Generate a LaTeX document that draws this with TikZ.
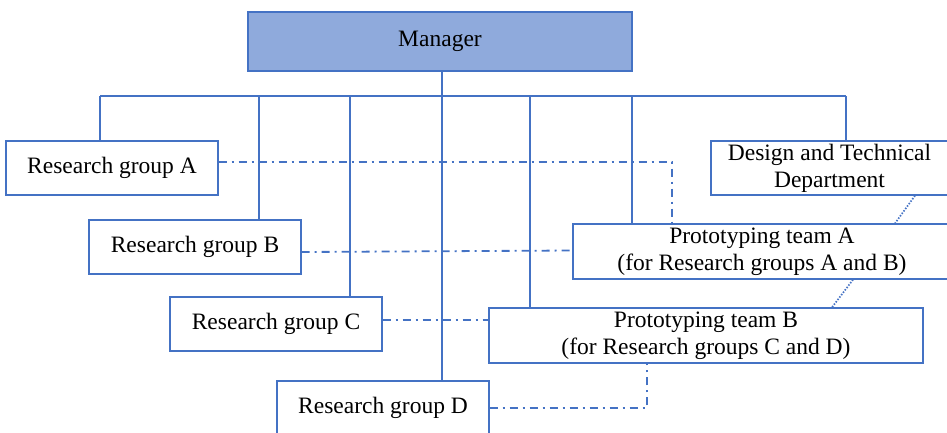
\documentclass[tikz,border=0pt]{standalone}
\usepackage{fontspec}
\setmainfont{Liberation Serif}
\definecolor{blu}{HTML}{4472C4}
\definecolor{mgrfill}{HTML}{8FAADC}
\tikzset{
  unit/.style={draw=blu, line width=1.3pt, fill=white, inner sep=0pt, align=center,
    font=\fontsize{23.5}{27}\selectfont, text=black},
  link/.style={draw=blu, line width=1.8pt},
  liaison/.style={draw=blu, line width=1.8pt, dash pattern=on 8pt off 5pt on 2pt off 5pt},
  support/.style={draw=blu, line width=1.7pt, dash pattern=on 1.5pt off 1.5pt},
}
\begin{document}
\begin{tikzpicture}[x=1pt,y=-1pt]
\useasboundingbox (0,0) rectangle (947,432);
\clip (0,0) rectangle (947,432);

% boxes
\node[unit, fill=mgrfill, minimum width=384pt, minimum height=59pt] (mgr) at (440,41.5) {Manager};
\node[unit, minimum width=212pt, minimum height=54pt] (rga) at (112,168) {Research group A};
\node[unit, minimum width=212pt, minimum height=54pt] (rgb) at (195,247) {Research group B};
\node[unit, minimum width=212pt, minimum height=54pt] (rgc) at (276,324) {Research group C};
\node[unit, minimum width=212pt, minimum height=54pt] (rgd) at (383,408) {Research group D};
\node[unit, minimum width=237pt, minimum height=54pt] (dtd) at (829.5,168) {Design and Technical\\Department};
\node[unit, minimum width=378pt, minimum height=55pt] (pta) at (762,251.5) {Prototyping team A\\(for Research groups A and B)};
\node[unit, minimum width=434pt, minimum height=55pt] (ptb) at (706,335.5) {Prototyping team B\\(for Research groups C and D)};

% reporting lines from the manager
\coordinate (ta) at (100,96);
\coordinate (tb) at (259,96);
\coordinate (tc) at (350,96);
\coordinate (tm) at (442,96);
\coordinate (tpb) at (530,96);
\coordinate (tpa) at (632,96);
\coordinate (tdd) at (846,96);
\draw[link] (ta) -- (tdd);
\draw[link] (tm |- mgr.south) -- (tm |- rgd.north);
\draw[link] (ta) -- (ta |- rga.north);
\draw[link] (tb) -- (tb |- rgb.north);
\draw[link] (tc) -- (tc |- rgc.north);
\draw[link] (tpb) -- (tpb |- ptb.north);
\draw[link] (tpa) -- (tpa |- pta.north);
\draw[link] (tdd) -- (tdd |- dtd.north);

% cooperation between research groups and prototyping teams
\coordinate (ka) at (672,162);
\draw[liaison] ([yshift=6pt]rga.east) -- (ka) -- (ka |- pta.north);
\draw[liaison] ([yshift=-5pt]rgb.east) -- ([yshift=1pt]pta.west);
\draw[liaison] ([yshift=4pt]rgc.east) -- ([yshift=4pt]rgc.east -| ptb.west);
\coordinate (kd) at (647,408);
\draw[liaison] (rgd.east) -- (kd) -- (kd |- ptb.south);

% support from the design department
\draw[support] ([xshift=85.5pt]dtd.south) -- ([xshift=133pt]pta.north);
\draw[support] ([xshift=91pt]pta.south) -- ([xshift=126pt]ptb.north);
\end{tikzpicture}
\end{document}
